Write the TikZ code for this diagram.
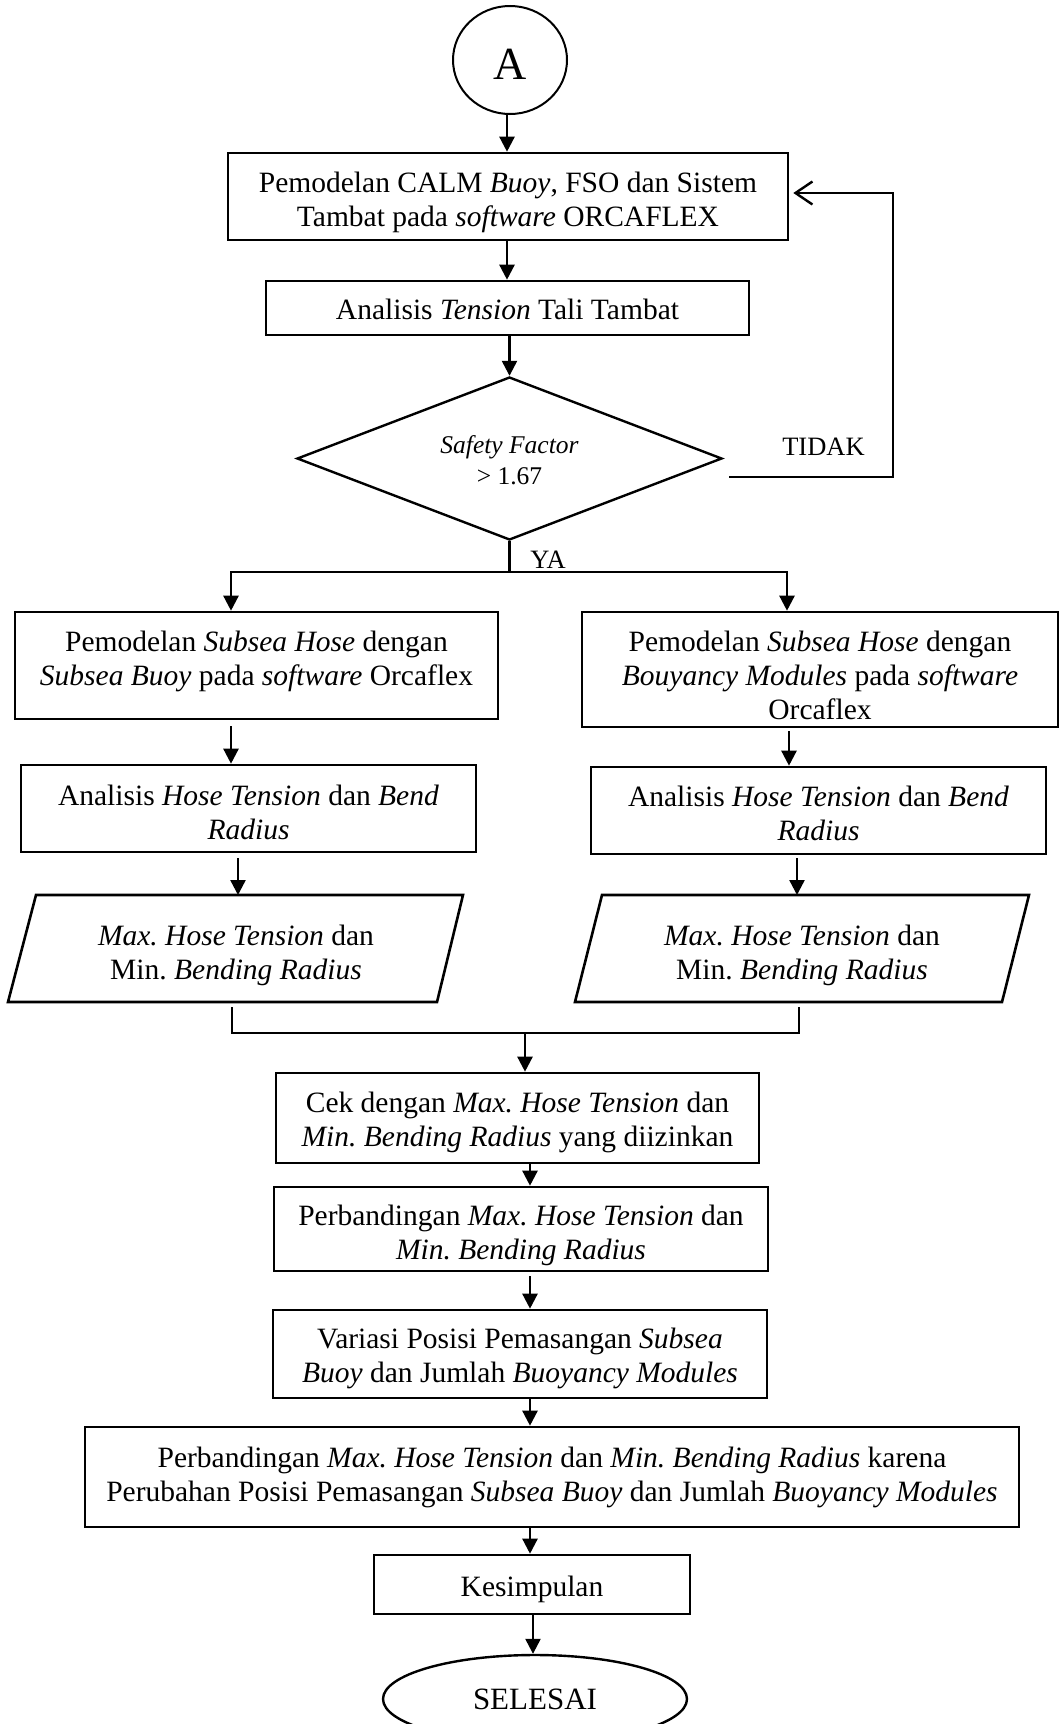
\documentclass[tikz,border=0pt]{standalone}
\usepackage{fontspec}
\setmainfont{Liberation Serif}
\usetikzlibrary{arrows.meta,shapes.geometric}
\frenchspacing
\begin{document}
\begin{tikzpicture}[x=1pt,y=-1pt,
  box/.style={draw, rectangle, line width=2.6pt, inner sep=0pt},
  txt/.style={inner sep=0pt, align=center, font=\fontsize{29.5}{34}\selectfont},
  lab/.style={inner sep=0pt, font=\fontsize{26.5}{30}\selectfont},
  ln/.style={line width=2.4pt},
  arr/.style={line width=2.4pt, -{Triangle[length=15pt,width=15pt]}},
]
\useasboundingbox (0,0) rectangle (1060,1724);

% start
\node[draw, ellipse, line width=2pt, minimum width=114pt, minimum height=108pt, inner sep=0pt] (A) at (510,60) {};
\node[inner sep=0pt, font=\fontsize{46}{50}\selectfont] (At) at (510,64) {A};

% main boxes
\node[box, minimum width=560pt, minimum height=87pt] (B1) at (508,196.5) {};
\node[txt] (B1t) at (508,202)
  {Pemodelan CALM \textit{Buoy}, FSO dan Sistem\\Tambat pada \textit{software} ORCAFLEX};
\node[box, minimum width=483pt, minimum height=54pt] (B2) at (507.5,308) {};
\node[txt] (B2t) at (507.5,309) {Analisis \textit{Tension} Tali Tambat};
\node[draw, diamond, aspect=2.6, line width=2.4pt, minimum width=425pt, minimum height=163pt, inner sep=0pt] (dia) at (509.5,458.5) {};
\node[inner sep=0pt, align=center, font=\fontsize{25.5}{31}\selectfont] (diat) at (509.5,460.5)
  {\textit{Safety Factor}\\> 1.67};

% branches
\node[box, minimum width=483pt, minimum height=107pt] (L1) at (256.5,665.5) {};
\node[txt] (L1t) at (256.5,661)
  {Pemodelan \textit{Subsea Hose} dengan\\\textit{Subsea Buoy} pada \textit{software} Orcaflex};
\node[box, minimum width=476pt, minimum height=115pt] (R1) at (820,669.5) {};
\node[txt] (R1t) at (820,675)
  {Pemodelan \textit{Subsea Hose} dengan\\\textit{Bouyancy Modules} pada \textit{software}\\Orcaflex};
\node[box, minimum width=455pt, minimum height=87pt] (L2) at (248.5,808.5) {};
\node[txt] (L2t) at (248.5,812)
  {Analisis \textit{Hose Tension} dan \textit{Bend}\\\textit{Radius}};
\node[box, minimum width=455pt, minimum height=87pt] (R2) at (818.5,810.5) {};
\node[txt] (R2t) at (818.5,813)
  {Analisis \textit{Hose Tension} dan \textit{Bend}\\\textit{Radius}};

% parallelograms
\draw[line width=2.6pt] (36,895) coordinate (PLa) -- (463,895) -- (437,1002) -- (8,1002) -- cycle;
\node[txt] (PLt) at (236,955) {\textit{Max. Hose Tension} dan\\Min. \textit{Bending Radius}};
\draw[line width=2.6pt] (602,895) coordinate (PRa) -- (1029,895) -- (1002,1002) -- (575,1002) -- cycle;
\node[txt] (PRt) at (802,955) {\textit{Max. Hose Tension} dan\\Min. \textit{Bending Radius}};
\coordinate (PLtop) at (238,895);
\coordinate (PRtop) at (797,895);

% centre column
\node[box, minimum width=483pt, minimum height=90pt] (C1) at (517.5,1118) {};
\node[txt] (C1t) at (517.5,1122.5)
  {Cek dengan \textit{Max. Hose Tension} dan\\\textit{Min. Bending Radius} yang diizinkan};
\node[box, minimum width=494pt, minimum height=84pt] (C2) at (521,1229) {};
\node[txt] (C2t) at (521,1235.5)
  {Perbandingan \textit{Max. Hose Tension} dan\\\textit{Min. Bending Radius}};
\node[box, minimum width=494pt, minimum height=88pt] (C3) at (520,1354) {};
\node[txt] (C3t) at (520,1358.5)
  {Variasi Posisi Pemasangan \textit{Subsea}\\\textit{Buoy} dan Jumlah \textit{Buoyancy Modules}};
\node[box, minimum width=934pt, minimum height=100pt] (C4) at (552,1477) {};
\node[txt] (C4t) at (552,1477)
  {Perbandingan \textit{Max. Hose Tension} dan \textit{Min. Bending Radius} karena\\Perubahan Posisi Pemasangan \textit{Subsea Buoy} dan Jumlah \textit{Buoyancy Modules}};
\node[box, minimum width=316pt, minimum height=59pt] (C5) at (532,1584.5) {};
\node[txt] (C5t) at (532,1589) {Kesimpulan};
\node[draw, ellipse, line width=2.4pt, minimum width=304pt, minimum height=88pt, inner sep=0pt,
  font=\fontsize{31}{35}\selectfont] (E) at (535,1699) {SELESAI};

% labels
\node[lab] (tidak) at (823.5,447) {TIDAK};
\node[lab] (yalab) at (548,560) {YA};

% connectors: top
\coordinate (c1) at (507,0);
\draw[arr] (A.south -| c1) -- (B1.north -| c1);
\draw[arr] (B1.south -| c1) -- (B2.north -| c1);
\draw[arr] (B2.south -| dia) -- (dia.north);

% feedback loop
\coordinate (fb0) at (729,477);
\coordinate (fb1) at (893,193);
\draw[ln, -{Straight Barb[length=17pt,width=23pt]}, shorten >=4pt] (fb0) -| (fb1) -- (fb1 -| B1.east);

% YA split
\coordinate (ya) at (509.5,572);
\coordinate (yaL) at (231,572);
\coordinate (yaR) at (787,572);
\draw[ln] (dia.south) -- (ya);
\draw[arr] (ya) -- (yaL) -- (yaL |- L1.north);
\draw[arr] (ya) -- (yaR) -- (yaR |- R1.north);

% left column
\coordinate (xl1) at (231,0);
\coordinate (xl2) at (238,0);
\draw[arr, shorten <=6pt] (L1.south -| xl1) -- (L2.north -| xl1);
\draw[arr, shorten <=5pt] (L2.south -| xl2) -- (PLtop);
% right column
\coordinate (xr1) at (789,0);
\coordinate (xr2) at (797,0);
\draw[arr, shorten <=3pt] (R1.south -| xr1) -- (R2.north -| xr1);
\draw[arr, shorten <=3pt] (R2.south -| xr2) -- (PRtop);

% merge
\coordinate (mLt) at (232,1007);
\coordinate (mRt) at (799,1007);
\coordinate (mL) at (232,1033);
\coordinate (mR) at (799,1033);
\coordinate (mC) at (525,1033);
\draw[ln] (mLt) -- (mL) -- (mR) -- (mRt);
\draw[arr] (mC) -- (C1.north -| mC);

% centre chain
\coordinate (xc) at (530,0);
\coordinate (xe) at (533,0);
\draw[arr] (C1.south -| xc) -- (C2.north -| xc);
\draw[arr, shorten <=4pt] (C2.south -| xc) -- (C3.north -| xc);
\draw[arr] (C3.south -| xc) -- (C4.north -| xc);
\draw[arr] (C4.south -| xc) -- (C5.north -| xc);
\draw[arr] (C5.south -| xe) -- (E.north -| xe);
\end{tikzpicture}
\end{document}
